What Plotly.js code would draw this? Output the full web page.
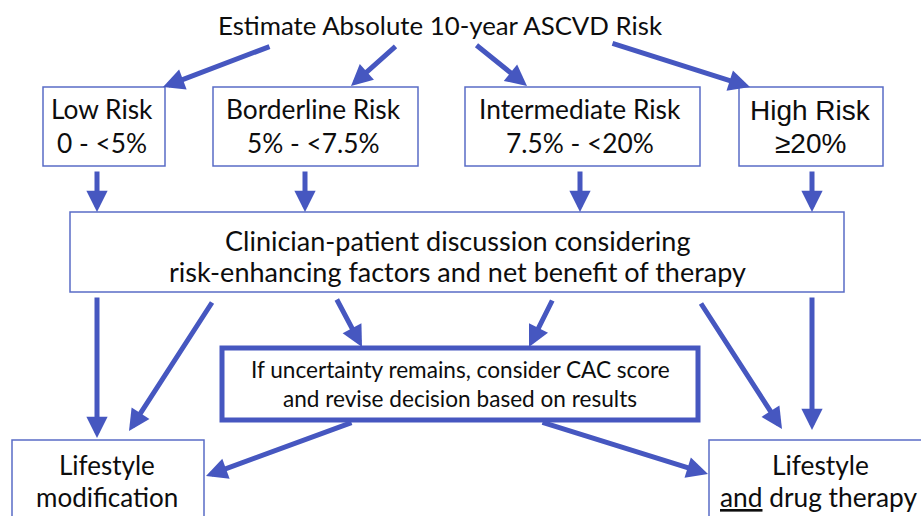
<!DOCTYPE html>
<html>
<head>
<meta charset="utf-8">
<script src="https://cdn.plot.ly/plotly-3.0.1.min.js"></script>
<style>html,body{margin:0;padding:0;background:#fff;}#chart{width:921px;height:516px;}</style>
</head>
<body>
<div id="chart"></div>
<script>
// Flowchart content
const titleText = "Estimate Absolute 10-year ASCVD Risk";
const riskNames = ["Low Risk", "Borderline Risk", "Intermediate Risk", "High Risk"];
const riskRanges = ["0 - <5%", "5% - <7.5%", "7.5% - <20%", "≥20%"];
const discussionLines = ["Clinician-patient discussion considering", "risk-enhancing factors and net benefit of therapy"];
const cacLines = ["If uncertainty remains, consider CAC score", "and revise decision based on results"];
const outcomeLeft = ["Lifestyle", "modification"];
const outcomeRight = ["Lifestyle", "<span style=\"text-decoration:underline\">and</span> drug therapy"];

// Layout geometry (pixel-like coordinate space)
const riskBoxes = [[43,87,165,166],[213,87,418,166],[465,87,700,166],[739,87,883,166]];
const riskCenters = [102, 313, 580, 810];
const discBox = [70,212,844,292];
const cacBox = [222,348,698,420];
const leftBox = [12,440,204,530];
const rightBox = [709,440,930,530];

// arrows: [tailX, tailY, headX, headY]
const arrows = [
  [271,46,163,87],[397,45,351,86],[475,44,527,86],[611,43,750,87],
  [97,170,97,212],[305,170,305,212],[580,170,580,212],[812,170,812,212],
  [97,296,97,438],[213,301,129,431],[336,298,362,347],[553,299,529,347],
  [700,302,782,429],[812,296,812,430],[353,422,206,476],[541,422,708,474]
];

const ARROW = "#4657c0";
const BORDER = "#5a6cc6";
const TXT = "#0d0d0d";
const FONT = "Lato, 'Open Sans', sans-serif";

const shapes = [];
function rect(b, w, c){ shapes.push({type:'rect', xref:'x', yref:'y', x0:b[0], y0:b[1], x1:b[2], y1:b[3], line:{color:c, width:w}, fillcolor:'rgba(0,0,0,0)', layer:'below'}); }
riskBoxes.forEach(b=>rect(b,1.5,BORDER));
rect(discBox,1.5,BORDER);
rect(cacBox,5,ARROW);
rect(leftBox,1.5,BORDER);
rect(rightBox,1.5,BORDER);

const ann = [];
function txt(x,y,t,size,fam){ ann.push({x:x,y:y,xref:'x',yref:'y',text:t,showarrow:false,font:{family:fam||FONT,size:size,color:TXT},xanchor:'center',yanchor:'middle'}); }
txt(440,25,titleText,25.8);
for(let i=0;i<4;i++){
  const fam = i===3 ? "'Liberation Sans', Arial, sans-serif" : FONT;
  const sz = i===3 ? 28 : 26.3;
  txt(riskCenters[i], i===3?110:109, riskNames[i], sz, fam);
  txt(riskCenters[i], 143, riskRanges[i], sz, fam);
}
txt(457,240,discussionLines[0],27);
txt(457,271,discussionLines[1],27);
txt(460,369,cacLines[0],22.6);
txt(460,398,cacLines[1],22.6);
txt(107,465,outcomeLeft[0],26);
txt(107,497,outcomeLeft[1],26);
txt(820,465,outcomeRight[0],26.3);
txt(818,497,outcomeRight[1],26.3);

arrows.forEach(a=>{
  ann.push({x:a[2],y:a[3],ax:a[0],ay:a[1],xref:'x',yref:'y',axref:'x',ayref:'y',text:'',showarrow:true,arrowhead:2,arrowsize:0.85,arrowwidth:5,arrowcolor:ARROW,standoff:0,startstandoff:0});
});

const layout = {
  width:921, height:516,
  margin:{l:0,r:0,t:0,b:0},
  paper_bgcolor:'#ffffff', plot_bgcolor:'#ffffff',
  xaxis:{range:[0,921], visible:false, fixedrange:true},
  yaxis:{range:[516,0], visible:false, fixedrange:true},
  shapes:shapes, annotations:ann, showlegend:false
};
Plotly.newPlot('chart', [], layout, {displayModeBar:false, staticPlot:true});
</script>
</body>
</html>
